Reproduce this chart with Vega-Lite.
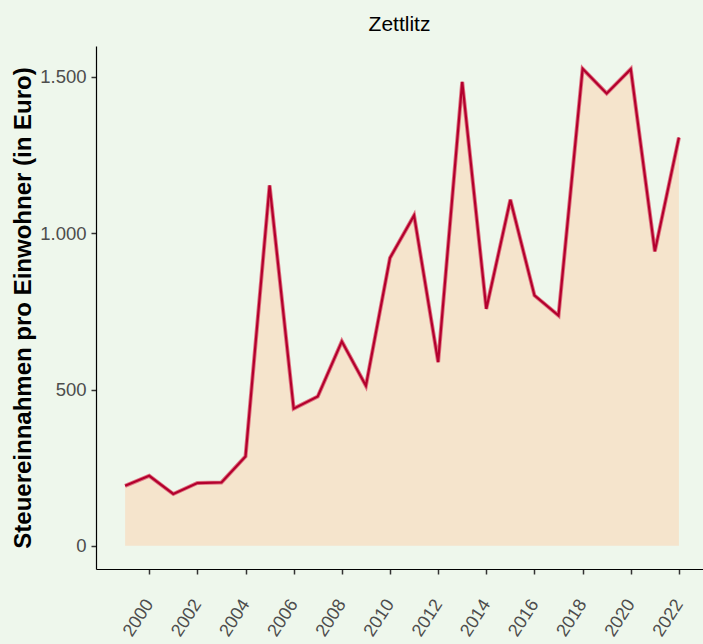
{
  "$schema": "https://vega.github.io/schema/vega-lite/v6.json",
  "width": 607,
  "height": 523,
  "autosize": {"type": "none"},
  "padding": {"left": 96, "top": 46, "right": 0, "bottom": 75},
  "background": "#EEF7EC",
  "title": {
    "text": "Zettlitz",
    "fontSize": 21,
    "font": "Liberation Sans",
    "fontWeight": "normal",
    "color": "#000000",
    "anchor": "middle",
    "offset": 11
  },
  "data": {
    "values": [
      {"year": 1999, "value": 192},
      {"year": 2000, "value": 224},
      {"year": 2001, "value": 166},
      {"year": 2002, "value": 201},
      {"year": 2003, "value": 203},
      {"year": 2004, "value": 286},
      {"year": 2005, "value": 1153},
      {"year": 2006, "value": 439},
      {"year": 2007, "value": 478},
      {"year": 2008, "value": 654},
      {"year": 2009, "value": 512},
      {"year": 2010, "value": 921},
      {"year": 2011, "value": 1057},
      {"year": 2012, "value": 588},
      {"year": 2013, "value": 1484},
      {"year": 2014, "value": 758},
      {"year": 2015, "value": 1107},
      {"year": 2016, "value": 801},
      {"year": 2017, "value": 737},
      {"year": 2018, "value": 1526},
      {"year": 2019, "value": 1447},
      {"year": 2020, "value": 1525},
      {"year": 2021, "value": 942},
      {"year": 2022, "value": 1306}
    ]
  },
  "encoding": {
    "x": {
      "field": "year",
      "type": "quantitative",
      "scale": {"domain": [1997.79, 2023.0], "nice": false, "zero": false},
      "axis": {
        "values": [2000, 2002, 2004, 2006, 2008, 2010, 2012, 2014, 2016, 2018, 2020, 2022],
        "format": "d",
        "title": null,
        "grid": false,
        "domainColor": "#000000",
        "domainWidth": 1.2,
        "tickColor": "#333333",
        "tickWidth": 1.5,
        "tickSize": 5,
        "labelAngle": -57,
        "labelAlign": "right",
        "labelBaseline": "middle",
        "labelPadding": 27,
        "labelFontSize": 18,
        "labelFont": "Liberation Sans",
        "labelColor": "#4D4D4D",
        "labelFlush": false,
        "labelOverlap": false
      }
    },
    "y": {
      "field": "value",
      "type": "quantitative",
      "scale": {"domain": [-74, 1599], "nice": false, "zero": false},
      "axis": {
        "values": [0, 500, 1000, 1500],
        "labelExpr": "replace(format(datum.value, ','), ',', '.')",
        "title": "Steuereinnahmen pro Einwohner (in Euro)",
        "titleFontSize": 24,
        "titleFont": "Liberation Sans",
        "titleFontWeight": "bold",
        "titleColor": "#000000",
        "titlePadding": 4,
        "grid": false,
        "domainColor": "#000000",
        "domainWidth": 1.2,
        "tickColor": "#333333",
        "tickWidth": 1.5,
        "tickSize": 5,
        "labelPadding": 5,
        "labelFontSize": 18.5,
        "labelFont": "Liberation Sans",
        "labelColor": "#4D4D4D"
      }
    }
  },
  "layer": [
    {
      "mark": {"type": "area", "color": "#F5E4CC", "opacity": 1},
      "encoding": {"y2": {"datum": 0}}
    },
    {
      "mark": {"type": "line", "color": "#E07382", "strokeWidth": 4, "strokeJoin": "miter"}
    },
    {
      "mark": {"type": "line", "color": "#B3002D", "strokeWidth": 2.2, "strokeJoin": "miter"}
    }
  ],
  "config": {
    "view": {"stroke": null},
    "font": "Liberation Sans"
  }
}
